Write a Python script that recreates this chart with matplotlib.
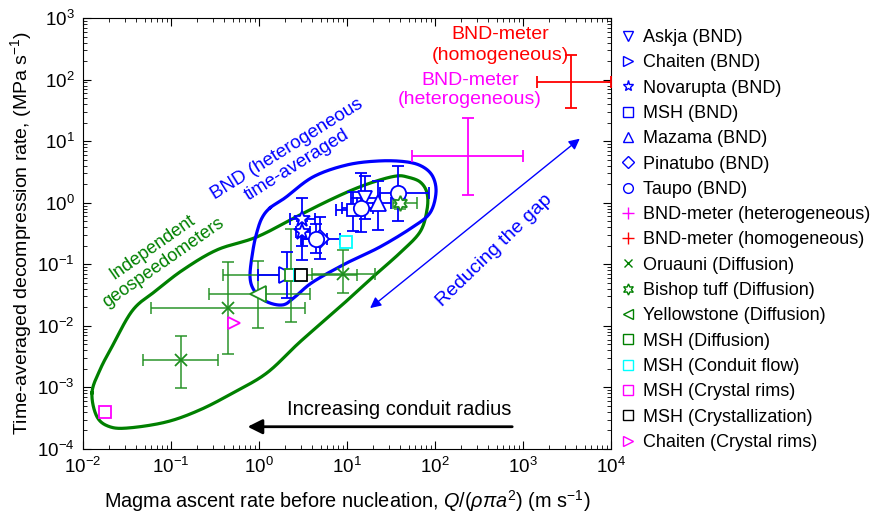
import numpy as np
import matplotlib.pyplot as plt
from matplotlib.lines import Line2D
from matplotlib.ticker import LogLocator

plt.rcParams['font.family'] = ['Liberation Sans', 'DejaVu Sans']
plt.rcParams['mathtext.fontset'] = 'custom'
plt.rcParams['mathtext.rm'] = 'Liberation Sans'
plt.rcParams['mathtext.it'] = 'Liberation Sans:italic'
plt.rcParams['mathtext.bf'] = 'Liberation Sans:bold'

# --- BND data (blue) : x, y, x low/high, y low/high
askja_x, askja_y = [16.0], [1.2]
askja_xlo, askja_xhi, askja_ylo, askja_yhi = [11.0], [24.0], [0.55], [2.7]

chaiten_x, chaiten_y = [2.08], [0.067]
chaiten_xlo, chaiten_xhi, chaiten_ylo, chaiten_yhi = [0.975], [3.0], [0.0285], [0.159]

nova_x, nova_y = [3.08, 3.1], [0.55, 0.33]
nova_xlo, nova_xhi, nova_ylo, nova_yhi = [2.25, 2.6], [4.3, 3.8], [0.118, 0.2], [1.2, 0.5]

mshb_x, mshb_y = [11.7], [0.76]
mshb_xlo, mshb_xhi, mshb_ylo, mshb_yhi = [7.5], [16.0], [0.35], [1.5]

maz_x, maz_y = [22.5], [1.0]
maz_xlo, maz_xhi, maz_ylo, maz_yhi = [13.0], [32.0], [0.36], [2.26]

pina_x, pina_y = [4.9], [0.26]
pina_xlo, pina_xhi, pina_ylo, pina_yhi = [3.16], [8.3], [0.12], [0.59]

taupo_x, taupo_y = [38.0, 14.4, 4.4], [1.44, 0.82, 0.26]
taupo_xlo, taupo_xhi = [23.7, 8.8, 3.0], [85.0, 19.7, 6.0]
taupo_ylo, taupo_yhi = [0.51, 0.33, 0.15], [3.95, 3.05, 0.45]

# BND-meter
het_x, het_y = [237.0], [5.75]
het_xlo, het_xhi, het_ylo, het_yhi = [54.8], [1000.0], [1.34], [23.8]
hom_x, hom_y = [3510.0], [91.0]
hom_xlo, hom_xhi, hom_ylo, hom_yhi = [1442.0], [10000.0], [34.6], [250.0]

# --- other geospeedometers (green etc.)
oru_x, oru_y = [0.13, 0.44, 9.0], [0.0028, 0.0196, 0.07]
oru_xlo, oru_xhi = [0.048, 0.059, 4.0], [0.34, 3.3, 20.8]
oru_ylo, oru_yhi = [0.00099, 0.0035, 0.034], [0.0069, 0.109, 0.171]

bish_x, bish_y = [40.0], [0.99]
bish_xlo, bish_xhi, bish_ylo, bish_yhi = [33.0], [62.0], [0.8], [1.2]

yell_x, yell_y = [0.97], [0.033]
yell_xlo, yell_xhi, yell_ylo, yell_yhi = [0.27], [3.8], [0.0093], [0.115]

mshd_x, mshd_y = [2.3], [0.068]
mshd_xlo, mshd_xhi, mshd_ylo, mshd_yhi = [0.39], [13.0], [0.0116], [0.376]

mshc_x, mshc_y = [2.9, 9.8], [0.068, 0.23]
mshr_x, mshr_y = [0.018], [0.0004]
mshx_x, mshx_y = [3.0], [0.068]
chr_x, chr_y = [0.52], [0.0112]

# outlines (log10 x, log10 y)
green_lx = [-1.898, -1.841, -1.693, -1.466, -1.045, -0.670, -0.295, 0.091, 0.466,
            0.920, 1.295, 1.602, 1.830, 1.909, 1.909, 1.830, 1.682, 1.568, 1.375,
            1.114, 0.807, 0.466, -0.023, -0.477, -0.864, -1.159, -1.432, -1.659, -1.807]
green_ly = [-3.088, -3.477, -3.640, -3.656, -3.558, -3.364, -3.088, -2.763, -2.260,
            -1.692, -1.205, -0.815, -0.474, -0.117, 0.159, 0.338, 0.419, 0.435, 0.370,
            0.240, 0.045, -0.198, -0.555, -0.766, -1.091, -1.416, -1.740, -2.308, -2.714]
blue_lx = [0.125, 0.295, 0.614, 1.0, 1.375, 1.682, 1.864, 1.977, 2.011, 1.943, 1.750,
           1.375, 1.0, 0.614, 0.409, 0.273, 0.091, -0.045, -0.102, -0.068, -0.023, 0.034]
blue_ly = [-0.084, 0.078, 0.419, 0.614, 0.679, 0.662, 0.581, 0.419, 0.159, -0.166, -0.393,
           -0.718, -0.977, -1.286, -1.529, -1.659, -1.610, -1.448, -1.205, -0.766, -0.474, -0.247]


def closed_spline(px, py, n=30):
    # periodic catmull-rom through the outline vertices
    px = np.asarray(px); py = np.asarray(py)
    k = len(px)
    xs, ys = [], []
    t = np.linspace(0, 1, n, endpoint=False)
    for i in range(k):
        p0 = np.array([px[i-1], py[i-1]])
        p1 = np.array([px[i], py[i]])
        p2 = np.array([px[(i+1) % k], py[(i+1) % k]])
        p3 = np.array([px[(i+2) % k], py[(i+2) % k]])
        for tt in t:
            pt = 0.5*((2*p1) + (-p0+p2)*tt + (2*p0-5*p1+4*p2-p3)*tt**2
                      + (-p0+3*p1-3*p2+p3)*tt**3)
            xs.append(pt[0]); ys.append(pt[1])
    xs.append(xs[0]); ys.append(ys[0])
    return 10**np.array(xs), 10**np.array(ys)


def err(ax, x, y, xlo, xhi, ylo, yhi, color, alpha=1.0):
    x = np.array(x); y = np.array(y)
    xe = [x - np.array(xlo), np.array(xhi) - x]
    ye = [y - np.array(ylo), np.array(yhi) - y]
    ax.errorbar(x, y, xerr=xe, yerr=ye, fmt='none', ecolor=color, elinewidth=1.3,
                capsize=4, capthick=1.3, alpha=alpha, zorder=3)


fig = plt.figure(figsize=(8.72, 5.14), dpi=100)
ax = fig.add_axes([83/872, 65/514, 528/872, 431/514])
ax.set_xscale('log')
ax.set_yscale('log')
ax.set_xlim(1e-2, 1e4)
ax.set_ylim(1e-4, 1e3)

gx, gy = closed_spline(green_lx, green_ly)
ax.plot(gx, gy, color='green', lw=2.3, zorder=2)
bx, by = closed_spline(blue_lx, blue_ly)
ax.plot(bx, by, color='blue', lw=2.3, zorder=2)

G = '#1f8f1f'
err(ax, oru_x, oru_y, oru_xlo, oru_xhi, oru_ylo, oru_yhi, G, 0.8)
err(ax, bish_x, bish_y, bish_xlo, bish_xhi, bish_ylo, bish_yhi, G, 0.8)
err(ax, yell_x, yell_y, yell_xlo, yell_xhi, yell_ylo, yell_yhi, G, 0.8)
err(ax, mshd_x, mshd_y, mshd_xlo, mshd_xhi, mshd_ylo, mshd_yhi, G, 0.8)

err(ax, askja_x, askja_y, askja_xlo, askja_xhi, askja_ylo, askja_yhi, 'blue')
err(ax, chaiten_x, chaiten_y, chaiten_xlo, chaiten_xhi, chaiten_ylo, chaiten_yhi, 'blue')
err(ax, nova_x, nova_y, nova_xlo, nova_xhi, nova_ylo, nova_yhi, 'blue')
err(ax, mshb_x, mshb_y, mshb_xlo, mshb_xhi, mshb_ylo, mshb_yhi, 'blue')
err(ax, maz_x, maz_y, maz_xlo, maz_xhi, maz_ylo, maz_yhi, 'blue')
err(ax, pina_x, pina_y, pina_xlo, pina_xhi, pina_ylo, pina_yhi, 'blue')
err(ax, taupo_x, taupo_y, taupo_xlo, taupo_xhi, taupo_ylo, taupo_yhi, 'blue')
err(ax, het_x, het_y, het_xlo, het_xhi, het_ylo, het_yhi, 'magenta')
err(ax, hom_x, hom_y, hom_xlo, hom_xhi, hom_ylo, hom_yhi, 'red')

mk = dict(ls='none', mfc='white', mew=1.3, zorder=4)
ax.plot(askja_x, askja_y, marker='v', ms=10, mec='blue', **mk)
ax.plot(chaiten_x, chaiten_y, marker='>', ms=11, mec='blue', **mk)
ax.plot(nova_x, nova_y, marker='*', ms=12, mec='blue', **mk)
ax.plot(mshb_x, mshb_y, marker='s', ms=8, mec='blue', **mk)
ax.plot(maz_x, maz_y, marker='^', ms=11, mec='blue', **mk)
ax.plot(pina_x, pina_y, marker='D', ms=9, mec='blue', **mk)
ax.plot(taupo_x, taupo_y, marker='o', ms=11, mec='blue', **mk)

ax.plot(oru_x, oru_y, marker='x', ms=8, mec=G, ls='none', mew=1.3, zorder=4)
ax.plot(bish_x, bish_y, marker=(6, 1, 0), ms=11, mec=G, **mk)
ax.plot(yell_x, yell_y, marker='<', ms=12, mec=G, **mk)
ax.plot(mshd_x, mshd_y, marker='s', ms=8, mec=G, **mk)
ax.plot(mshc_x, mshc_y, marker='s', ms=8, mec='cyan', **mk)
ax.plot(mshr_x, mshr_y, marker='s', ms=8, mec='magenta', **mk)
ax.plot(mshx_x, mshx_y, marker='s', ms=8, mec='black', **mk)
ax.plot(chr_x, chr_y, marker='>', ms=9, mec='magenta', **mk)

# annotations
ax.annotate('', xy=(0.69, 2.3e-4), xytext=(811, 2.3e-4),
            arrowprops=dict(arrowstyle='-|>', color='black', lw=2, mutation_scale=22))
ax.text(39, 4.3e-4, 'Increasing conduit radius', fontsize=14.5, ha='center', va='center')
ax.annotate('', xy=(4677, 11.7), xytext=(17.3, 0.0182),
            arrowprops=dict(arrowstyle='<|-|>', color='blue', lw=1, mutation_scale=16))
ax.text(470, 0.17, 'Reducing the gap', fontsize=14, color='blue', rotation=44,
        ha='center', va='center', rotation_mode='anchor')
ax.text(0.071, 0.142, 'Independent\ngeospeedometers', fontsize=13, color='green',
        rotation=35, ha='center', va='center', multialignment='center',
        rotation_mode='anchor', linespacing=1.1)
ax.text(2.37, 5.5, 'BND (heterogeneous\ntime-averaged', fontsize=13.5, color='blue',
        rotation=32, ha='center', va='center', multialignment='center',
        rotation_mode='anchor', linespacing=1.1)
ax.text(548, 365, 'BND-meter\n(homogeneous)', fontsize=14, color='red',
        ha='center', va='center', multialignment='center', linespacing=1.25)
ax.text(250, 67.8, 'BND-meter\n(heterogeneous)', fontsize=14, color='magenta',
        ha='center', va='center', multialignment='center', linespacing=1.2)

ax.tick_params(which='both', direction='in', top=True, right=True, labelsize=13.5)
ax.tick_params(which='major', length=6, pad=6)
ax.tick_params(which='minor', length=3)
ax.xaxis.set_minor_locator(LogLocator(subs=np.arange(2, 10), numticks=20))
ax.yaxis.set_minor_locator(LogLocator(subs=np.arange(2, 10), numticks=20))
ax.xaxis.set_major_locator(LogLocator(numticks=20))
ax.yaxis.set_major_locator(LogLocator(numticks=20))

ax.set_xlabel(r'Magma ascent rate before nucleation, $Q/(\rho\pi a^2)$ (m s$^{-1}$)',
              fontsize=14.3, labelpad=8)
ax.set_ylabel(r'Time-averaged decompression rate, (MPa s$^{-1}$)', fontsize=14, labelpad=2)

handles = [
    Line2D([], [], ls='none', marker='v', mec='blue', mfc='white', ms=7, label='Askja (BND)'),
    Line2D([], [], ls='none', marker='>', mec='blue', mfc='white', ms=7, label='Chaiten (BND)'),
    Line2D([], [], ls='none', marker='*', mec='blue', mfc='white', ms=8, label='Novarupta (BND)'),
    Line2D([], [], ls='none', marker='s', mec='blue', mfc='white', ms=7, label='MSH (BND)'),
    Line2D([], [], ls='none', marker='^', mec='blue', mfc='white', ms=7, label='Mazama (BND)'),
    Line2D([], [], ls='none', marker='D', mec='blue', mfc='white', ms=6, label='Pinatubo (BND)'),
    Line2D([], [], ls='none', marker='o', mec='blue', mfc='white', ms=7, label='Taupo (BND)'),
    Line2D([], [], ls='none', marker='+', mec='magenta', ms=8, label='BND-meter (heterogeneous)'),
    Line2D([], [], ls='none', marker='+', mec='red', ms=8, label='BND-meter (homogeneous)'),
    Line2D([], [], ls='none', marker='x', mec='green', ms=6, label='Oruauni (Diffusion)'),
    Line2D([], [], ls='none', marker=(6, 1, 0), mec='green', mfc='white', ms=8, label='Bishop tuff (Diffusion)'),
    Line2D([], [], ls='none', marker='<', mec='green', mfc='white', ms=7, label='Yellowstone (Diffusion)'),
    Line2D([], [], ls='none', marker='s', mec='green', mfc='white', ms=7, label='MSH (Diffusion)'),
    Line2D([], [], ls='none', marker='s', mec='cyan', mfc='white', ms=7, label='MSH (Conduit flow)'),
    Line2D([], [], ls='none', marker='s', mec='magenta', mfc='white', ms=7, label='MSH (Crystal rims)'),
    Line2D([], [], ls='none', marker='s', mec='black', mfc='white', ms=7, label='MSH (Crystallization)'),
    Line2D([], [], ls='none', marker='>', mec='magenta', mfc='white', ms=7, label='Chaiten (Crystal rims)'),
]
fig.legend(handles=handles, loc='upper left', bbox_to_anchor=(621/872, 1 - 29/514),
           frameon=False, fontsize=13, labelspacing=0.46, handlelength=0.8,
           handletextpad=0.43, borderaxespad=0, borderpad=0)

fig.savefig('out.png', dpi=100)
